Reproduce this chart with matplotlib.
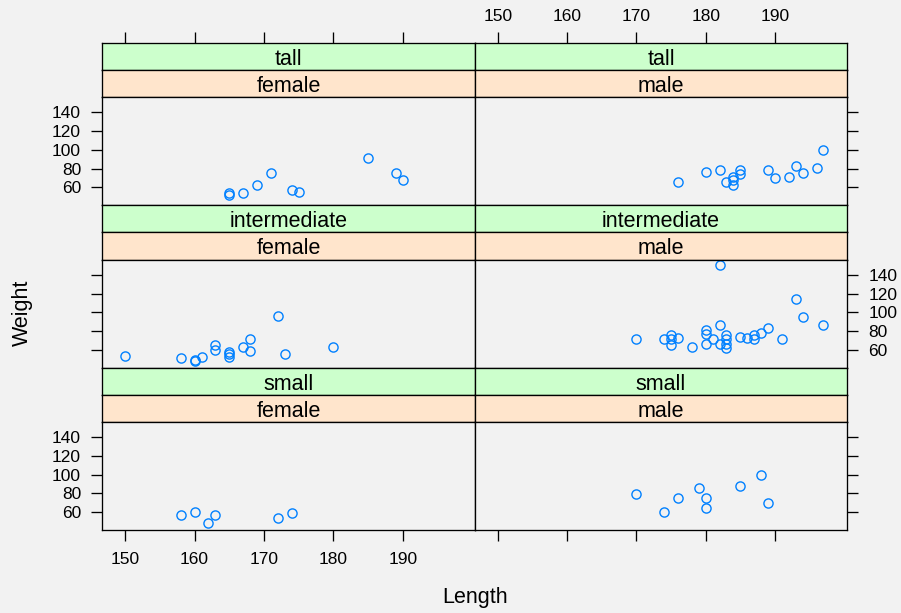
import matplotlib
matplotlib.use("Agg")
import matplotlib.pyplot as plt

# ---- data ----
height_levels = ["tall", "intermediate", "small"]
sex_levels = ["female", "male"]

tall_female_len = [165, 165, 167, 169, 171, 174, 175, 185, 189, 190]
tall_female_wt = [54, 52, 54, 62, 75, 57, 55, 91, 75, 68]

tall_male_len = [176, 180, 182, 183, 184, 184, 184, 185, 185, 189, 190, 192, 193, 194, 196, 197]
tall_male_wt = [66, 76, 78, 66, 71, 68, 62, 78, 74, 79, 70, 71, 83, 75, 81, 100]

int_female_len = [150, 158, 160, 160, 161, 163, 163, 165, 165, 165, 167, 168, 168, 172, 173, 180]
int_female_wt = [53, 51, 49, 48, 52, 65, 60, 58, 55, 52, 63, 71, 59, 96, 56, 63]

int_male_len = [170, 174, 175, 175, 175, 176, 178, 180, 180, 180, 181, 182, 182, 182,
                183, 183, 183, 183, 185, 186, 187, 187, 188, 189, 191, 193, 194, 197]
int_male_wt = [71, 71, 76, 71, 65, 73, 63, 81, 77, 66, 71, 150, 86, 66,
               76, 71, 66, 62, 74, 73, 76, 71, 78, 83, 71, 114, 95, 86]

small_female_len = [158, 160, 162, 163, 172, 174]
small_female_wt = [57, 60, 48, 57, 54, 59]

small_male_len = [170, 174, 176, 179, 180, 180, 185, 188, 189]
small_male_wt = [79, 60, 75, 86, 75, 65, 88, 100, 70]

x_ticks = [150, 160, 170, 180, 190]
y_ticks = [60, 80, 100, 120, 140]
x_label = "Length"
y_label = "Weight"

panels = {
    ("tall", "female"): (tall_female_len, tall_female_wt),
    ("tall", "male"): (tall_male_len, tall_male_wt),
    ("intermediate", "female"): (int_female_len, int_female_wt),
    ("intermediate", "male"): (int_male_len, int_male_wt),
    ("small", "female"): (small_female_len, small_female_wt),
    ("small", "male"): (small_male_len, small_male_wt),
}

# ---- layout ----
W, H = 901, 613
BG = "#F2F2F2"
STRIP_OUTER = "#CCFFCC"
STRIP_INNER = "#FFE5CC"
PT_COLOR = "#0080FF"
FONT = "Liberation Sans"
FS_STRIP = 15.5
FS_TICK = 12.5
TICK_LEN = 7.8
LW = 0.95

plt.rcParams["font.family"] = [FONT, "DejaVu Sans"]

fig = plt.figure(figsize=(W / 100, H / 100), dpi=100, facecolor=BG)


def add_px(x0, y0, x1, y1):
    return fig.add_axes([x0 / W, 1 - y1 / H, (x1 - x0) / W, (y1 - y0) / H])


col_x = [(102.3, 475.0), (475.0, 847.0)]
top = 42.7
strip_h = 27.2
row_h = 162.45
xlim = (146.7, 200.4)
ylim = (41.0, 156.2)

for r, hl in enumerate(height_levels):
    y0 = top + r * row_h
    for c, sl in enumerate(sex_levels):
        x0, x1 = col_x[c]
        # strips
        for k, (txt, col) in enumerate([(hl, STRIP_OUTER), (sl, STRIP_INNER)]):
            sa = add_px(x0, y0 + k * strip_h, x1, y0 + (k + 1) * strip_h)
            sa.set_facecolor(col)
            sa.set_xticks([])
            sa.set_yticks([])
            for sp in sa.spines.values():
                sp.set_linewidth(LW)
            sa.text(0.5, 0.19, txt, ha="center", va="baseline", fontsize=FS_STRIP,
                    transform=sa.transAxes)
        # panel
        ax = add_px(x0, y0 + 2 * strip_h, x1, y0 + row_h)
        ax.set_facecolor(BG)
        lens, wts = panels[(hl, sl)]
        ax.plot(lens, wts, linestyle="none", marker="o", markersize=6.6,
                markerfacecolor="none", markeredgecolor=PT_COLOR,
                markeredgewidth=1.0)
        ax.set_xlim(*xlim)
        ax.set_ylim(*ylim)
        for sp in ax.spines.values():
            sp.set_linewidth(LW)
        ax.set_xticks([])
        ax.set_yticks(y_ticks)
        # y-axis alternation
        left_lab = (c == 0 and r != 1)
        right_lab = (c == 1 and r == 1)
        ax.tick_params(axis="y", which="both", direction="out", length=TICK_LEN,
                       width=LW, left=(c == 0), right=(c == 1),
                       labelleft=left_lab, labelright=right_lab,
                       labelsize=FS_TICK, pad=7.5)

        # x-axis on bottom row
        if r == len(height_levels) - 1:
            ax.set_xticks(x_ticks)
            ax.tick_params(axis="x", direction="out", length=TICK_LEN, width=LW,
                           bottom=True, top=False, labelbottom=(c == 0),
                           labelsize=FS_TICK, pad=8.0)
        # x-axis on top: draw on topmost strip axis
        if r == 0:
            ta = fig.add_axes([x0 / W, 1 - (y0 + strip_h) / H, (x1 - x0) / W, strip_h / H],
                              frameon=False)
            ta.patch.set_visible(False)
            ta.set_xlim(*xlim)
            ta.set_yticks([])
            ta.set_xticks(x_ticks)
            ta.tick_params(axis="x", direction="out", length=TICK_LEN, width=LW,
                           top=True, bottom=False, labeltop=(c == 1),
                           labelbottom=False, labelsize=FS_TICK, pad=6.0)

fig.text(22 / W, 1 - 313 / H, y_label, rotation=90, ha="center", va="center",
         fontsize=FS_STRIP)
fig.text(475 / W, 1 - 597 / H, x_label, ha="center", va="center",
         fontsize=FS_STRIP)

fig.savefig("out.png", dpi=100, facecolor=BG)
